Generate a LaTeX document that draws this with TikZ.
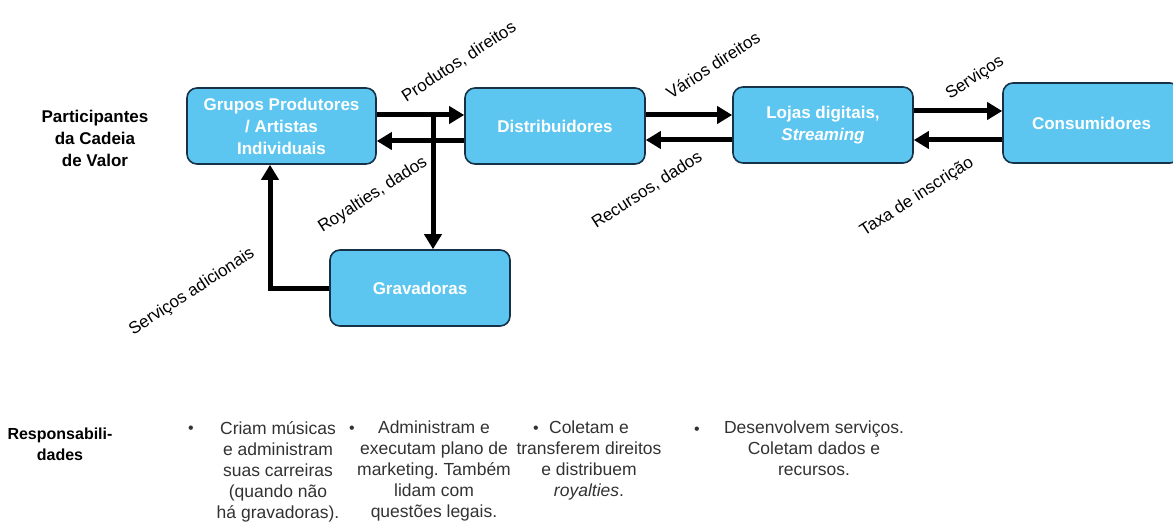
\documentclass[tikz,border=0pt]{standalone}
\usepackage{fontspec}
\setmainfont{Liberation Sans}
\usetikzlibrary{arrows.meta}
\definecolor{boxfill}{RGB}{92,198,240}
\definecolor{boxline}{RGB}{22,50,72}
\definecolor{txtgray}{RGB}{50,50,50}
\frenchspacing
\begin{document}
\begin{tikzpicture}[x=1pt,y=-1pt,
  box/.style={draw=boxline, line width=1.6pt, fill=boxfill, rounded corners=10pt,
    text=white, font=\fontsize{17}{22}\selectfont\bfseries, align=center, inner sep=0pt},
  arr/.style={line width=5pt, -{Triangle[length=15pt,width=17pt]}},
  lbl/.style={font=\fontsize{17}{20}\selectfont, rotate=33, inner sep=0pt},
  head/.style={font=\fontsize{17}{22}\selectfont\bfseries, align=center},
  resp/.style={font=\fontsize{17.5}{21}\selectfont, text=txtgray, align=center, anchor=north, inner sep=0pt},
  bul/.style={font=\fontsize{16}{21}\selectfont, text=txtgray, inner sep=0pt}]
\useasboundingbox (0,0) rectangle (1173,524);

% headings
\node[head] (hpart) at (95,138) {Participantes\\da Cadeia\\de Valor};
\node[head, font=\fontsize{16}{21}\selectfont\bfseries] (hresp) at (60,444) {Responsabili-\\dades};

% boxes
\node[box, minimum width=189pt, minimum height=76pt] (grupos) at (281.5,126) {Grupos Produtores\\/ Artistas\\Individuais};
\node[box, minimum width=180pt, minimum height=76pt] (distr) at (555,126) {Distribuidores};
\node[box, minimum width=180pt, minimum height=76pt] (lojas) at (823,125) {Lojas digitais,\\\itshape Streaming};
\node[box, minimum width=177pt, minimum height=80pt] (cons) at (1091.5,123) {Consumidores};
\node[box, minimum width=180pt, minimum height=76pt] (grav) at (420,288) {Gravadoras};

% arrows
\draw[arr] (grupos.east |- 0,115) -- (distr.west |- 0,115);
\draw[arr] (distr.west |- 0,141) -- (grupos.east |- 0,141);
\coordinate (junc) at (433,113);
\draw[arr] (junc) -- (grav.north -| 433,0);
\coordinate (corner) at (270,288);
\draw[arr] (grav.west |- corner) -- (corner) -- (grupos.south -| corner);
\draw[arr] (distr.east |- 0,115) -- (lojas.west |- 0,115);
\draw[arr] (lojas.west |- 0,140) -- (distr.east |- 0,140);
\draw[arr] (lojas.east |- 0,111) -- (cons.west |- 0,111);
\draw[arr] (cons.west |- 0,140) -- (lojas.east |- 0,140);

% labels
\node[lbl] (l1) at (459,62) {Produtos, direitos};
\node[lbl] (l2) at (713,65) {Vários direitos};
\node[lbl] (l3) at (975,78) {Serviços};
\node[lbl] (l4) at (373,195) {Royalties, dados};
\node[lbl] (l5) at (647,190) {Recursos, dados};
\node[lbl] (l6) at (917,197) {Taxa de inscrição};
\node[lbl] (l7) at (192,292) {Serviços adicionais};

% responsibilities
\node[bul] (b1) at (191,430) {\textbullet};
\node[resp] (r1) at (278,421) {Criam músicas\\e administram\\suas carreiras\\(quando não\\há gravadoras).};
\node[bul] (b2) at (352,430) {\textbullet};
\node[resp] (r2) at (434,421) {Administram e\\executam plano de\\marketing. Também\\lidam com\\questões legais.};
\node[bul] (b3) at (536,430) {\textbullet};
\node[resp] (r3) at (589,421) {Coletam e\\transferem direitos\\e distribuem\\\textit{royalties}.};
\node[bul] (b4) at (697,431) {\textbullet};
\node[resp] (r4) at (814,421) {Desenvolvem serviços.\\Coletam dados e\\recursos.};
\end{tikzpicture}
\end{document}
